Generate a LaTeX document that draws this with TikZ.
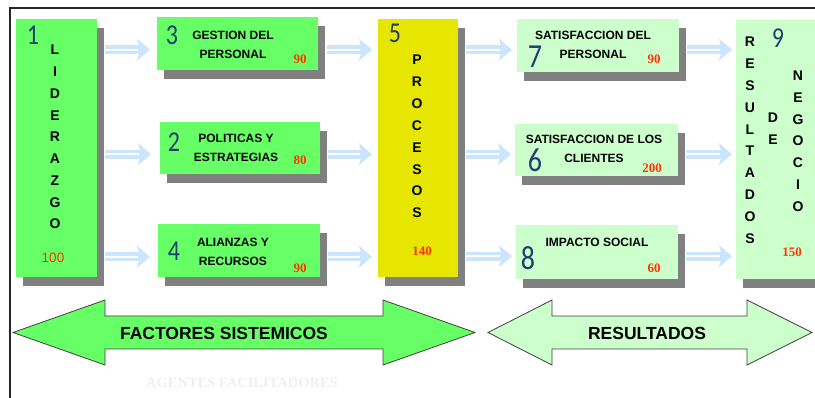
\documentclass[tikz,border=0pt]{standalone}
\usepackage{fontspec}
\setmainfont{Liberation Sans}
\newfontfamily\numfont{Carlito}
\newfontfamily\valfont{Liberation Serif}
\usetikzlibrary{shadows,arrows.meta,calc}

\definecolor{verde}{HTML}{66FF66}
\definecolor{verdeclaro}{HTML}{CCFFCC}
\definecolor{amarillo}{HTML}{E6E600}
\definecolor{sombra}{HTML}{808080}
\definecolor{flecha}{HTML}{CCE5FF}
\definecolor{azulnum}{HTML}{1F3F6F}
\definecolor{rojoval}{HTML}{FF3300}
\definecolor{tenue}{HTML}{EFEFEF}

\newcommand{\cifra}[1]{\scalebox{1}[1.2]{\numfont #1}}

\tikzset{
  caja/.style={rectangle, anchor=north west, inner sep=0pt,
    general shadow={fill=sombra, shadow xshift=7pt, shadow yshift=-9pt}},
  letra/.style={font=\fontsize{14}{16}\selectfont\bfseries},
  rotulo/.style={align=center, font=\fontsize{12}{19}\selectfont\bfseries},
  valor/.style={text=rojoval, font=\valfont\fontsize{13}{15}\selectfont\bfseries},
  numero/.style={text=azulnum, font=\fontsize{24}{26}\selectfont},
  numerog/.style={text=azulnum, font=\fontsize{28}{30}\selectfont},
  flujo/.style={draw=flecha, line width=9pt,
    -{Stealth[length=13pt,width=22pt,inset=3pt]},
    postaction={draw=white, line width=2pt, -, shorten >=12pt}},
  flechagrande/.style={draw=black!75, line width=0.8pt, line join=miter},
  rotulogrande/.style={font=\fontsize{17.5}{20}\selectfont\bfseries}
}

\begin{document}
\begin{tikzpicture}[x=1pt,y=-1pt]
\useasboundingbox (0,0) rectangle (815,398);

% marco
\draw[line width=1.5pt, black!85] (10,398) -- (10,8) -- (815,8);

% cajas
\node[caja, fill=verde, minimum width=81pt, minimum height=258pt] (lid) at (16,19) {};
\node[caja, fill=verde, minimum width=161pt, minimum height=53pt] (gest) at (157,17) {};
\node[caja, fill=verde, minimum width=160pt, minimum height=52pt] (pol) at (160,122) {};
\node[caja, fill=verde, minimum width=162pt, minimum height=53pt] (ali) at (158,224) {};
\node[caja, fill=amarillo, minimum width=80pt, minimum height=258pt] (proc) at (378,19) {};
\node[caja, fill=verdeclaro, minimum width=162pt, minimum height=53pt] (satp) at (517,19) {};
\node[caja, fill=verdeclaro, minimum width=163pt, minimum height=52pt] (satc) at (515,124) {};
\node[caja, fill=verdeclaro, minimum width=162pt, minimum height=54pt] (imp) at (516,225) {};
\node[caja, fill=verdeclaro, minimum width=100pt, minimum height=259pt] (res) at (736,20) {};

% letras verticales
\foreach \l [count=\i from 0] in {L,I,D,E,R,A,Z,G,O}
  \node[letra] (lid-\i) at (55,50+21.75*\i) {\l};
\foreach \l [count=\i from 0] in {P,R,O,C,E,S,O,S}
  \node[letra] (proc-\i) at (417,60+21.85*\i) {\l};
\foreach \l [count=\i from 0] in {R,E,S,U,L,T,A,D,O,S}
  \node[letra] (res-\i) at (750,42+21.8*\i) {\l};
\foreach \l [count=\i from 0] in {D,E}
  \node[letra] (de-\i) at (773,118+21.8*\i) {\l};
\foreach \l [count=\i from 0] in {N,E,G,O,C,I,O}
  \node[letra] (neg-\i) at (798,76+21.7*\i) {\l};

% rotulos
\node[rotulo] (gest-t) at (233,44.5) {GESTION DEL\\PERSONAL};
\node[rotulo] (pol-t) at (236,148) {POLITICAS Y\\ESTRATEGIAS};
\node[rotulo] (ali-t) at (233,252) {ALIANZAS Y\\RECURSOS};
\node[rotulo] (satp-t) at (593,44.5) {SATISFACCION DEL\\PERSONAL};
\node[rotulo] (satc-t) at (594,148.5) {SATISFACCION DE LOS\\CLIENTES};
\node[rotulo] (imp-t) at (597,242) {IMPACTO SOCIAL};

% numeros
\node[numero] (n1) at (33,35) {\cifra{1}};
\node[numero] (n3) at (172,35) {\cifra{3}};
\node[numero] (n2) at (174,142) {\cifra{2}};
\node[numero] (n4) at (174,251) {\cifra{4}};
\node[numero] (n5) at (395,33) {\cifra{5}};
\node[numerog] (n7) at (535,57) {\cifra{7}};
\node[numerog] (n6) at (535,160) {\cifra{6}};
\node[numerog] (n8) at (528,258) {\cifra{8}};
\node[numero] (n9) at (778,38) {\cifra{9}};

% valores
\node[text=rojoval, font=\fontsize{13.5}{15}\selectfont] (v1) at (53,258) {100};
\node[valor] (v3) at (300,59) {90};
\node[valor] (v2) at (300,160) {80};
\node[valor] (v4) at (300,268) {90};
\node[valor] (v5) at (422,251) {140};
\node[valor] (v7) at (654,59) {90};
\node[valor] (v6) at (652,168) {200};
\node[valor] (v8) at (654,268) {60};
\node[valor] (v9) at (792,252) {150};

% flechas entre cajas
\draw[flujo] ($(lid.east |- gest.west)+(8,6)$) -- ($(gest.west)+(-7,6)$);
\draw[flujo] ($(lid.east |- pol.west)+(8,6)$) -- ($(pol.west)+(-9,6)$);
\draw[flujo] ($(lid.east |- ali.west)+(8,6)$) -- ($(ali.west)+(-8,6)$);
\draw[flujo] ($(gest.east)+(9,6)$) -- ($(proc.west |- gest.west)+(-6,6)$);
\draw[flujo] ($(pol.east)+(8,6)$) -- ($(proc.west |- pol.west)+(-6,6)$);
\draw[flujo] ($(ali.east)+(8,6)$) -- ($(proc.west |- ali.west)+(-6,6)$);
\draw[flujo] ($(proc.east |- satp.west)+(8,4)$) -- ($(satp.west)+(-5,4)$);
\draw[flujo] ($(proc.east |- satc.west)+(8,4)$) -- ($(satc.west)+(-4,4)$);
\draw[flujo] ($(proc.east |- imp.west)+(8,4)$) -- ($(imp.west)+(-4,4)$);
\draw[flujo] ($(satp.east)+(8,4)$) -- ($(res.west |- satp.west)+(-4,4)$);
\draw[flujo] ($(satc.east)+(8,4)$) -- ($(res.west |- satc.west)+(-4,4)$);
\draw[flujo] ($(imp.east)+(8,4)$) -- ($(res.west |- imp.west)+(-4,4)$);

% flechas grandes
\filldraw[flechagrande, fill=verde] (13,332.5) -- (105,300) -- (105,316) -- (383,316)
  -- (383,300) -- (475,332.5) -- (383,365) -- (383,349) -- (105,349) -- (105,365) -- cycle;
\node[rotulogrande] (fact) at (224,333) {FACTORES SISTEMICOS};
\filldraw[flechagrande, fill=verdeclaro] (488,332.5) -- (552,300) -- (552,316) -- (747,316)
  -- (747,300) -- (812,332.5) -- (747,365) -- (747,349) -- (552,349) -- (552,365) -- cycle;
\node[rotulogrande] (resul) at (647,333) {RESULTADOS};

\node[text=tenue, font=\valfont\fontsize{14.5}{16}\selectfont\bfseries] (agen) at (242,383) {AGENTES FACILITADORES};
\end{tikzpicture}
\end{document}
